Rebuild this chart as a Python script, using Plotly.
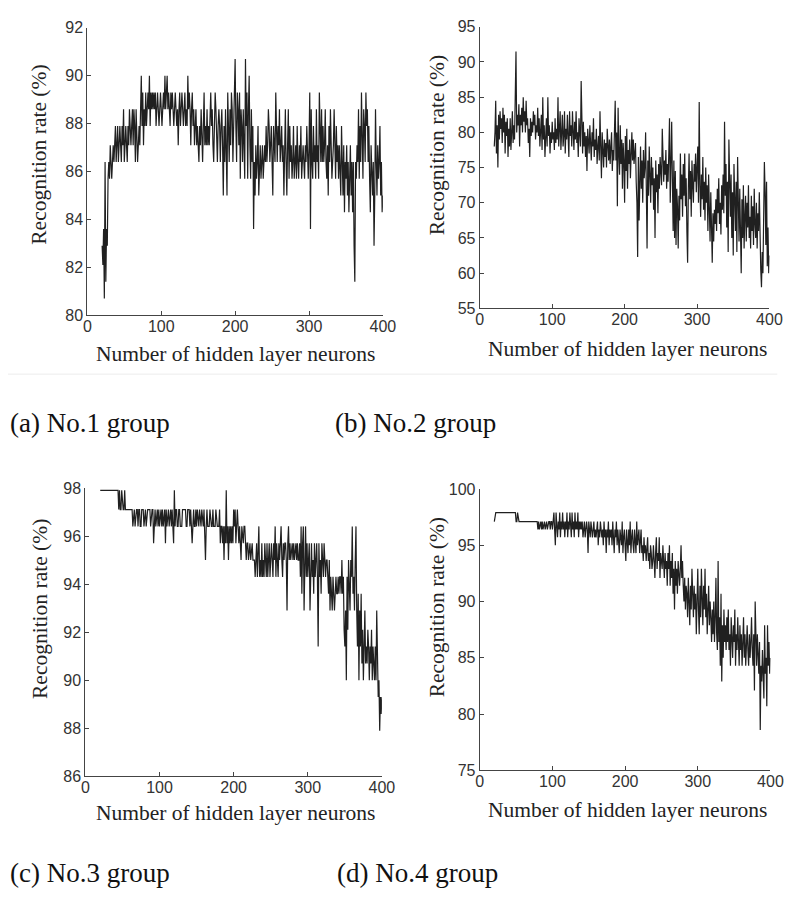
import plotly.graph_objects as go

# Recognition rate (%), one value per neuron count, from 20 neurons upward
rate_no1 = [
    82.9, 82.1, 83.6, 80.7, 86.4, 81.4, 83.6, 82.9, 85.7, 86.4, 85.7, 87.1, 86.4, 85.7, 86.4, 87.1, 86.4, 87.1, 87.9, 86.4,
    87.1, 87.9, 86.4, 87.1, 87.9, 87.1, 86.4, 87.9, 87.1, 88.6, 86.4, 87.1, 87.9, 87.1, 86.4, 87.9, 87.1, 88.6, 87.9, 87.1,
    87.9, 88.6, 87.1, 88.6, 87.9, 86.4, 88.6, 87.1, 86.4, 87.1, 87.9, 87.1, 88.6, 90.0, 87.9, 89.3, 87.1, 88.6, 87.9, 89.3,
    87.9, 88.6, 89.3, 88.6, 90.0, 87.9, 89.3, 88.6, 89.3, 88.6, 89.3, 88.6, 89.3, 87.9, 88.6, 89.3, 88.6, 87.9, 88.6, 89.3,
    88.6, 87.9, 88.6, 89.3, 88.6, 90.0, 88.6, 89.3, 90.0, 88.6, 89.3, 88.6, 87.9, 89.3, 88.6, 89.3, 88.6, 87.9, 88.6, 89.3,
    88.6, 87.9, 88.6, 87.1, 88.6, 89.3, 87.9, 88.6, 89.3, 88.6, 87.9, 88.6, 89.3, 87.9, 88.6, 87.9, 90.0, 88.6, 89.3, 88.6,
    87.1, 88.6, 89.3, 87.9, 88.6, 87.1, 87.9, 88.6, 87.1, 87.9, 87.1, 86.4, 87.9, 87.1, 88.6, 87.1, 86.4, 87.9, 89.3, 87.1,
    87.9, 87.1, 88.6, 87.1, 87.9, 87.1, 88.6, 89.3, 87.9, 88.6, 87.1, 86.4, 87.9, 89.3, 88.6, 87.1, 86.4, 87.9, 88.6, 87.9,
    86.4, 87.9, 88.6, 87.1, 85.0, 87.9, 86.4, 88.6, 87.1, 85.0, 89.3, 87.9, 86.4, 88.6, 87.1, 89.3, 88.6, 86.4, 87.9, 88.6,
    90.7, 87.9, 86.4, 89.3, 88.6, 87.1, 89.3, 85.7, 88.6, 87.9, 86.4, 88.6, 87.1, 85.7, 90.7, 87.9, 89.3, 85.7, 88.6, 90.0,
    87.1, 85.7, 88.6, 86.4, 87.9, 83.6, 86.4, 85.0, 87.1, 85.7, 86.4, 87.9, 85.0, 86.4, 87.1, 85.7, 86.4, 87.1, 85.7, 86.4,
    87.1, 86.4, 87.9, 86.4, 87.1, 88.6, 87.9, 86.4, 87.1, 87.9, 86.4, 85.0, 87.9, 87.1, 86.4, 89.3, 87.1, 86.4, 87.9, 87.1,
    88.6, 86.4, 87.1, 87.9, 86.4, 87.1, 85.0, 87.9, 88.6, 86.4, 85.0, 87.1, 88.6, 85.7, 87.9, 86.4, 87.1, 85.7, 86.4, 87.9,
    85.7, 86.4, 87.1, 85.7, 87.9, 86.4, 85.7, 87.1, 86.4, 87.9, 85.7, 86.4, 87.1, 86.4, 85.7, 87.1, 86.4, 87.9, 86.4, 85.7,
    87.1, 89.3, 83.6, 88.6, 86.4, 85.7, 87.9, 86.4, 87.1, 85.7, 88.6, 86.4, 87.1, 85.7, 89.3, 87.1, 86.4, 88.6, 86.4, 87.9,
    86.4, 87.1, 88.6, 86.4, 85.7, 87.1, 85.0, 87.9, 86.4, 88.6, 87.1, 85.7, 86.4, 87.1, 88.6, 86.4, 85.7, 87.9, 86.4, 87.1,
    85.7, 87.1, 86.4, 85.0, 87.9, 86.4, 85.0, 87.1, 84.3, 86.4, 85.7, 87.1, 85.0, 86.4, 84.3, 85.7, 87.1, 85.0, 86.4, 84.3,
    86.4, 82.9, 81.4, 86.4, 85.7, 87.1, 86.4, 88.6, 85.7, 87.9, 86.4, 89.3, 87.1, 85.7, 88.6, 87.9, 86.4, 89.3, 87.9, 88.6,
    86.4, 87.9, 85.7, 84.3, 87.1, 85.7, 85.0, 86.4, 82.9, 85.0, 88.6, 86.4, 85.0, 87.1, 85.7, 86.4, 87.9, 85.0, 86.4, 84.3,
    85.0,
]

rate_no2 = [
    78.0, 80.0, 84.5, 77.0, 81.0, 75.0, 82.5, 79.0, 83.0, 80.5, 82.0, 78.5, 83.5, 80.0, 82.5, 77.0, 81.5, 79.5, 82.0, 76.5,
    80.5, 78.0, 82.0, 77.5, 80.0, 83.0, 78.5, 81.0, 79.0, 87.0, 91.5, 80.0, 82.5, 81.0, 84.0, 78.0, 82.5, 81.0, 83.5, 80.0,
    85.0, 81.5, 83.0, 80.0, 84.5, 81.0, 82.0, 78.5, 80.5, 76.5, 82.0, 79.5, 81.5, 80.0, 83.0, 81.0, 82.5, 79.0, 81.0, 80.0,
    83.5, 79.5, 82.0, 78.0, 80.5, 82.5, 77.5, 85.0, 79.0, 81.0, 76.5, 80.5, 82.0, 78.0, 85.0, 79.5, 81.0, 77.0, 80.0, 78.5,
    81.5, 79.0, 80.0, 77.5, 82.0, 78.5, 80.5, 79.0, 85.0, 78.0, 81.5, 83.0, 77.5, 80.0, 82.5, 78.0, 79.5, 83.0, 77.0, 80.5,
    79.0, 82.5, 80.0, 76.5, 83.0, 79.5, 81.0, 78.0, 83.0, 80.0, 77.5, 81.5, 79.0, 83.0, 78.5, 80.0, 76.5, 82.0, 79.0, 78.0,
    87.3, 79.5, 77.0, 81.5, 78.0, 80.0, 76.5, 79.5, 74.5, 80.5, 78.0, 77.0, 81.0, 78.5, 76.0, 80.0, 78.0, 82.0, 76.5, 79.0,
    77.5, 80.5, 75.5, 78.0, 79.5, 76.0, 83.0, 78.0, 73.5, 80.0, 77.5, 75.0, 79.0, 76.5, 78.5, 75.0, 80.5, 77.0, 76.0, 79.0,
    75.5, 78.0, 80.0, 74.5, 77.5, 76.0, 82.5, 84.5, 76.0, 80.0, 69.5, 83.5, 77.0, 74.0, 81.0, 75.5, 79.0, 72.0, 78.5, 76.0,
    70.0, 79.5, 74.5, 80.5, 72.0, 77.5, 75.5, 79.0, 73.5, 78.0, 80.0, 76.0, 79.0, 75.5, 77.5, 78.5, 73.0, 70.0, 62.3, 76.5,
    67.5, 75.0, 78.0, 72.0, 76.0, 70.0, 77.5, 73.5, 75.0, 80.0, 69.5, 63.5, 76.0, 71.0, 78.0, 74.0, 70.0, 76.5, 72.5, 75.0,
    69.0, 73.5, 65.0, 76.0, 71.5, 74.0, 68.5, 75.5, 72.0, 76.5, 74.5, 72.5, 80.5, 75.0, 73.0, 76.0, 74.0, 77.5, 72.0, 75.5,
    73.0, 77.0, 82.0, 70.0, 75.5, 81.5, 73.0, 66.0, 76.0, 65.0, 74.5, 64.0, 72.0, 69.5, 63.5, 71.0, 67.5, 77.0, 70.5, 74.0,
    68.0, 75.5, 71.0, 77.0, 69.5, 73.5, 66.0, 61.5, 72.0, 77.0, 70.5, 74.5, 68.0, 76.0, 72.5, 70.0, 75.5, 73.0, 77.0, 71.5,
    75.0, 78.0, 70.0, 84.3, 72.5, 68.0, 74.0, 70.5, 76.5, 69.0, 73.0, 67.5, 75.0, 70.0, 72.5, 66.0, 74.0, 69.5, 64.5, 71.5,
    66.0, 61.5, 68.5, 64.5, 69.0, 67.0, 70.5, 66.0, 72.0, 68.5, 73.5, 67.0, 70.0, 65.5, 72.5, 69.0, 74.0, 68.5, 81.5, 71.0,
    75.5, 66.5, 73.0, 63.0, 79.0, 70.5, 68.0, 74.0, 65.0, 71.5, 62.5, 75.5, 69.0, 66.0, 73.0, 63.0, 76.5, 68.5, 64.5, 72.0,
    66.0, 60.0, 70.5, 65.0, 72.5, 63.5, 68.0, 71.0, 64.5, 70.0, 66.5, 72.5, 65.0, 68.0, 63.5, 71.0, 66.0, 69.5, 64.0, 72.0,
    67.0, 65.0, 70.0, 63.5, 68.5, 66.0, 71.5, 62.0, 60.5, 58.0, 63.0, 60.0, 66.5, 75.8, 71.5, 64.0, 73.0, 61.0, 66.5, 60.0,
    62.5,
]

rate_no3 = [
    97.9, 97.9, 97.9, 97.9, 97.9, 97.9, 97.9, 97.9, 97.9, 97.9, 97.9, 97.9, 97.9, 97.9, 97.9, 97.9, 97.9, 97.9, 97.9, 97.9,
    97.9, 97.9, 97.9, 97.9, 97.9, 97.1, 97.9, 97.1, 97.1, 97.9, 97.1, 97.1, 97.1, 97.9, 97.1, 97.1, 97.1, 97.1, 97.1, 97.1,
    97.1, 97.1, 97.1, 97.1, 96.4, 97.1, 97.1, 96.4, 97.1, 97.1, 97.1, 96.4, 97.1, 97.1, 96.4, 96.4, 97.1, 97.1, 97.1, 96.4,
    97.1, 97.1, 96.4, 97.1, 97.1, 97.1, 97.1, 97.1, 96.4, 97.1, 97.1, 97.1, 95.7, 96.4, 97.1, 96.4, 97.1, 97.1, 96.4, 97.1,
    96.4, 97.1, 97.1, 96.4, 97.1, 96.4, 97.1, 97.1, 95.7, 97.1, 96.4, 97.1, 97.1, 96.4, 97.1, 97.1, 96.4, 97.1, 96.4, 95.7,
    97.9, 96.4, 97.1, 97.1, 96.4, 96.4, 97.1, 97.1, 96.4, 96.4, 96.4, 97.1, 97.1, 97.1, 97.1, 97.1, 96.4, 96.4, 97.1, 97.1,
    97.1, 96.4, 97.1, 96.4, 95.7, 96.4, 97.1, 96.4, 96.4, 97.1, 96.4, 97.1, 96.4, 96.4, 97.1, 96.4, 96.4, 97.1, 96.4, 96.4,
    97.1, 96.4, 95.0, 96.4, 97.1, 96.4, 96.4, 96.4, 97.1, 96.4, 96.4, 96.4, 97.1, 96.4, 96.4, 96.4, 97.1, 96.4, 96.4, 96.4,
    96.4, 97.1, 95.7, 96.4, 96.4, 95.7, 96.4, 95.0, 96.4, 95.7, 97.9, 95.7, 96.4, 95.0, 96.4, 95.7, 96.4, 95.7, 96.4, 95.7,
    97.1, 96.4, 97.1, 95.7, 96.4, 97.1, 96.4, 95.7, 96.4, 95.7, 95.0, 96.4, 95.7, 95.7, 96.4, 96.4, 95.7, 95.0, 95.7, 95.7,
    95.0, 95.7, 95.7, 95.0, 95.7, 95.7, 95.0, 95.0, 95.0, 94.3, 95.0, 95.7, 94.3, 95.0, 96.4, 94.3, 95.0, 94.3, 95.7, 94.3,
    95.0, 94.3, 95.7, 95.0, 94.3, 95.7, 94.3, 95.0, 95.7, 94.3, 95.0, 95.7, 95.0, 94.3, 95.7, 95.0, 96.4, 94.3, 95.7, 95.0,
    94.3, 95.7, 95.0, 95.7, 96.4, 95.0, 94.3, 95.7, 95.0, 95.7, 95.7, 95.0, 92.9, 95.7, 96.4, 95.0, 95.7, 95.0, 95.7, 95.7,
    95.0, 95.7, 95.0, 95.7, 95.7, 95.0, 95.7, 95.0, 95.0, 95.7, 94.3, 96.4, 93.6, 95.7, 96.4, 92.9, 95.0, 96.4, 94.3, 95.7,
    94.3, 95.0, 95.7, 92.9, 94.3, 95.7, 94.3, 95.0, 93.6, 95.7, 94.3, 95.0, 95.7, 94.3, 91.4, 95.7, 94.3, 95.0, 93.6, 95.7,
    95.0, 94.3, 95.7, 95.0, 94.3, 95.0, 95.0, 94.3, 93.6, 95.0, 92.9, 94.3, 93.6, 92.9, 94.3, 93.6, 92.9, 93.6, 94.3, 93.6,
    93.6, 94.3, 93.6, 94.3, 94.3, 93.6, 95.0, 93.6, 94.3, 92.1, 91.4, 92.9, 90.0, 94.3, 92.1, 95.0, 93.6, 92.9, 95.0, 94.3,
    96.4, 93.6, 94.3, 92.9, 95.0, 96.4, 92.9, 91.4, 93.6, 90.0, 92.9, 91.4, 93.6, 90.7, 92.1, 90.0, 91.4, 92.9, 90.7, 91.4,
    90.7, 92.1, 91.4, 90.0, 91.4, 90.7, 92.1, 90.0, 91.4, 90.7, 90.0, 91.4, 90.0, 92.9, 90.0, 89.3, 90.0, 87.9, 89.3, 88.6,
    89.3,
]

rate_no4 = [
    97.1, 97.9, 97.9, 97.9, 97.9, 97.9, 97.9, 97.9, 97.9, 97.9, 97.9, 97.9, 97.9, 97.9, 97.9, 97.9, 97.9, 97.9, 97.9, 97.9,
    97.9, 97.9, 97.9, 97.9, 97.9, 97.9, 97.9, 97.9, 97.9, 97.9, 97.1, 97.1, 97.9, 97.1, 97.1, 97.1, 97.1, 97.1, 97.1, 97.1,
    97.1, 97.1, 97.1, 97.1, 97.1, 97.1, 97.1, 97.1, 97.1, 97.1, 97.1, 97.1, 97.1, 97.1, 97.1, 97.1, 97.1, 97.1, 97.1, 97.1,
    96.4, 97.1, 96.4, 97.1, 97.1, 96.4, 97.1, 96.4, 97.1, 97.1, 96.4, 97.1, 97.1, 96.4, 97.1, 97.1, 97.1, 96.4, 97.1, 97.1,
    96.4, 97.1, 97.9, 96.4, 95.0, 97.9, 96.4, 95.7, 97.1, 96.4, 97.9, 95.7, 97.1, 96.4, 97.9, 96.4, 97.1, 95.7, 97.1, 96.4,
    97.9, 95.7, 97.1, 96.4, 97.9, 96.4, 95.7, 97.9, 96.4, 97.1, 95.7, 97.9, 96.4, 97.1, 96.4, 97.9, 95.7, 97.1, 96.4, 97.1,
    96.4, 97.1, 95.7, 96.4, 97.1, 95.7, 96.4, 97.1, 96.4, 94.3, 97.1, 96.4, 95.7, 97.1, 96.4, 95.7, 96.4, 97.1, 95.7, 96.4,
    95.7, 96.4, 97.1, 95.0, 96.4, 95.7, 97.1, 96.4, 95.7, 96.4, 95.0, 97.1, 95.7, 96.4, 94.3, 96.4, 95.7, 97.1, 95.0, 96.4,
    95.7, 96.4, 95.0, 97.1, 95.7, 94.3, 96.4, 95.7, 97.1, 95.0, 96.4, 95.7, 94.3, 96.4, 95.7, 95.0, 97.1, 94.3, 95.7, 96.4,
    95.0, 93.6, 96.4, 95.7, 94.3, 96.4, 95.0, 97.1, 94.3, 95.7, 96.4, 95.0, 94.3, 96.4, 95.7, 94.3, 97.1, 95.0, 95.7, 96.4,
    94.3, 95.7, 96.4, 94.3, 95.0, 93.6, 95.7, 94.3, 95.0, 93.6, 94.3, 95.7, 93.6, 94.3, 92.9, 95.0, 94.3, 92.9, 93.6, 95.0,
    93.6, 92.1, 94.3, 95.7, 92.9, 94.3, 93.6, 95.7, 92.1, 94.3, 93.6, 92.9, 95.0, 93.6, 92.1, 94.3, 92.9, 93.6, 91.4, 94.3,
    92.9, 95.0, 91.4, 93.6, 92.1, 94.3, 90.7, 92.9, 89.3, 93.6, 91.4, 92.9, 90.7, 93.6, 92.1, 91.4, 92.9, 95.0, 92.1, 93.6,
    91.4, 90.0, 92.1, 89.3, 91.4, 90.7, 88.6, 92.1, 90.0, 87.9, 91.4, 89.3, 92.9, 90.0, 88.6, 91.4, 89.3, 90.7, 87.1, 90.0,
    92.9, 89.3, 87.1, 91.4, 88.6, 92.9, 90.0, 87.9, 91.4, 89.3, 92.9, 88.6, 90.7, 87.1, 89.3, 91.4, 87.9, 90.0, 88.6, 86.4,
    89.3, 87.1, 90.0, 86.4, 88.6, 92.1, 87.1, 85.7, 93.6, 86.4, 88.6, 84.3, 90.7, 82.9, 87.9, 85.0, 89.3, 86.4, 87.9, 85.7,
    88.6, 86.4, 89.3, 85.7, 87.1, 84.3, 88.6, 86.4, 85.0, 87.9, 86.4, 89.3, 84.3, 87.1, 85.7, 88.6, 86.4, 84.3, 87.9, 85.7,
    87.1, 84.3, 86.4, 88.6, 85.0, 87.1, 84.3, 86.4, 87.9, 85.7, 84.3, 87.1, 85.0, 86.4, 88.6, 85.7, 84.3, 87.1, 82.1, 90.0,
    86.4, 84.3, 87.1, 85.0, 83.6, 86.4, 78.6, 84.3, 82.9, 85.7, 83.6, 81.4, 87.9, 83.6, 85.0, 80.7, 87.9, 84.3, 86.4, 83.6,
    85.0,
]

first_neurons = 20
x_ticks = [0, 100, 200, 300, 400]
x_title = "Number of hidden layer neurons"
y_title = "Recognition rate (%)"
captions = ["(a) No.1 group", "(b) No.2 group", "(c) No.3 group", "(d) No.4 group"]
y_ranges = [[80, 92], [55, 95], [86, 98], [75, 100]]
y_steps = [2, 5, 2, 5]
series = [rate_no1, rate_no2, rate_no3, rate_no4]

W, H = 795, 901
OFF = 8  # the page body adds an 8 px margin; compensate so pixels match the window


def px(v):
    return (v - OFF) / W


def py(v):
    return 1 - (v - OFF) / H


# plot boxes in window pixels: (left, right, top, bottom)
boxes = [(85, 387, 20, 313), (486, 782, 19, 306), (83, 386, 489, 783), (486, 783, 490, 777)]
# axis-title positions in window pixels
ytitle_pos = [(36, 149), (442, 140), (36, 612), (442, 611)]
xtitle_pos = [(236, 353), (637, 347), (236, 820), (637, 817)]
caption_pos = [(4, 423), (336, 423), (4, 881), (338, 881)]

axis_color = "#444444"
tick_font = dict(family="Liberation Sans, Arial, sans-serif", size=16, color="#333333")
serif = "Liberation Serif, Times New Roman, serif"

fig = go.Figure()
layout = dict(
    width=W, height=H, margin=dict(l=0, r=0, t=0, b=0),
    paper_bgcolor="white", plot_bgcolor="white", showlegend=False,
)
annotations = []

for i, vals in enumerate(series):
    n = i + 1
    suffix = "" if n == 1 else str(n)
    xs = list(range(first_neurons, first_neurons + len(vals)))
    fig.add_trace(go.Scatter(
        x=xs, y=vals, mode="lines",
        line=dict(color="#202020", width=1.2),
        xaxis="x" + suffix, yaxis="y" + suffix, hoverinfo="skip",
    ))
    l, r, t, b = boxes[i]
    common = dict(
        ticks="inside", ticklen=4, tickcolor=axis_color, tickwidth=1,
        showline=True, linecolor=axis_color, linewidth=1.2,
        showgrid=False, zeroline=False, tickfont=tick_font, fixedrange=True,
    )
    layout["xaxis" + suffix] = dict(
        domain=[px(l), px(r)], range=[0, 400], tickvals=x_ticks,
        anchor="y" + suffix, ticklabelstandoff=-4, **common,
    )
    layout["yaxis" + suffix] = dict(
        domain=[py(b), py(t)], range=y_ranges[i], dtick=y_steps[i], tick0=0,
        anchor="x" + suffix, **common,
    )
    yx, yy = ytitle_pos[i]
    annotations.append(dict(
        text=y_title, x=px(yx), y=py(yy), xref="paper", yref="paper",
        showarrow=False, textangle=-90, xanchor="center", yanchor="middle",
        font=dict(family=serif, size=21.5, color="#222222"),
    ))
    tx, ty = xtitle_pos[i]
    annotations.append(dict(
        text=x_title, x=px(tx), y=py(ty), xref="paper", yref="paper",
        showarrow=False, xanchor="center", yanchor="middle",
        font=dict(family=serif, size=21.5, color="#222222"),
    ))
    cx, cy = caption_pos[i]
    annotations.append(dict(
        text=captions[i], x=px(cx), y=py(cy), xref="paper", yref="paper",
        showarrow=False, xanchor="left", yanchor="middle",
        font=dict(family=serif, size=27, color="#111111"),
    ))

layout["annotations"] = annotations
layout["shapes"] = [dict(
    type="line", xref="paper", yref="paper", x0=px(0), x1=px(790), y0=py(373), y1=py(373),
    line=dict(color="#ececec", width=1),
)]
fig.update_layout(**layout)
fig.write_html("out.html")
